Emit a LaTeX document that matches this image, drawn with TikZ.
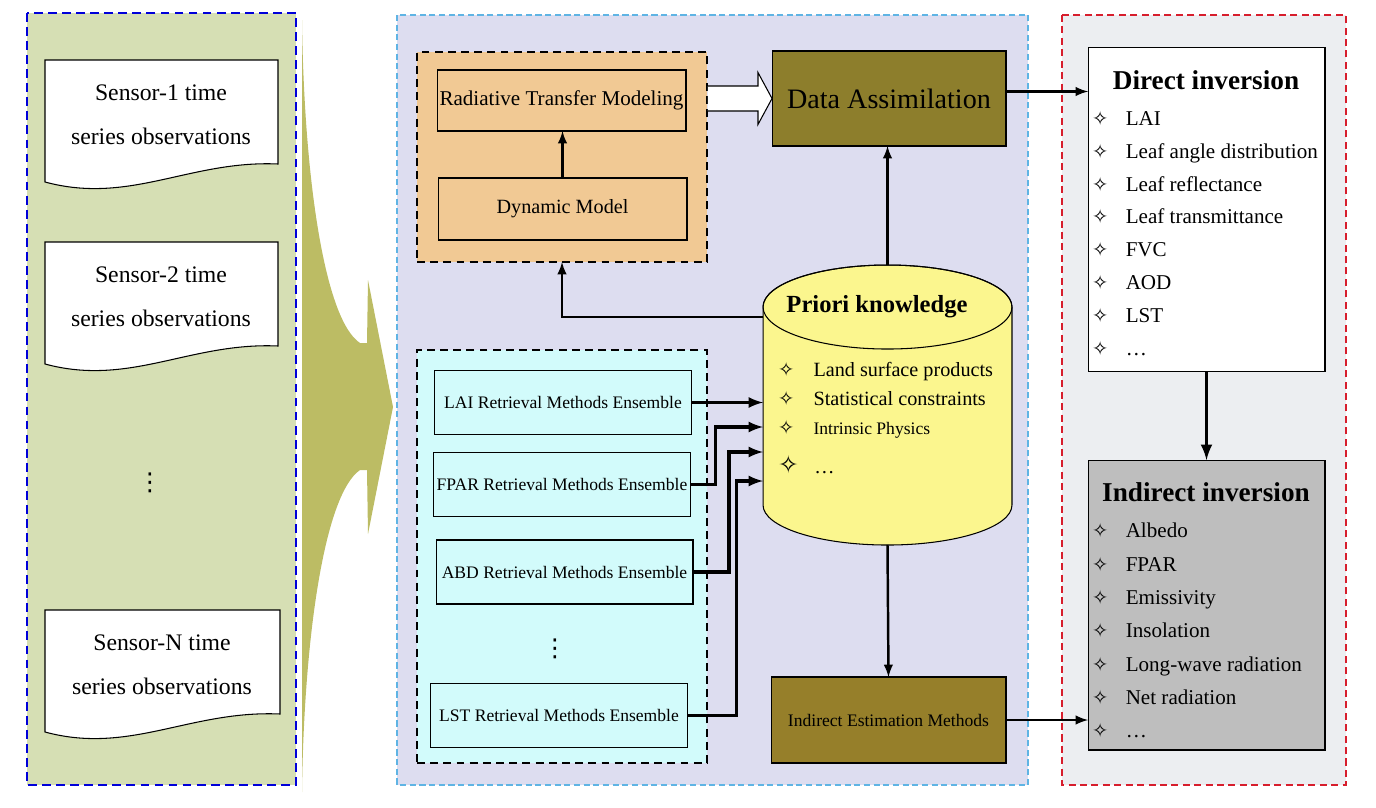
\documentclass[tikz,border=0pt]{standalone}
\usepackage{fontspec}
\setmainfont{Liberation Serif}
\newfontfamily\symfont{DejaVu Sans}
\usepackage{tikz}
\usetikzlibrary{calc,arrows,positioning}

\definecolor{sensorgreen}{RGB}{214,223,180}
\definecolor{funnelolive}{RGB}{188,188,100}
\definecolor{midlavender}{RGB}{221,221,240}
\definecolor{midblue}{RGB}{95,180,228}
\definecolor{modeltan}{RGB}{241,201,148}
\definecolor{retrcyan}{RGB}{210,251,251}
\definecolor{assimolive}{RGB}{141,126,44}
\definecolor{iemolive}{RGB}{150,127,42}
\definecolor{priorcream}{RGB}{251,246,142}
\definecolor{outgray}{RGB}{236,238,241}
\definecolor{outred}{RGB}{215,30,45}
\definecolor{indgray}{RGB}{190,190,190}

\newcommand{\itemstar}{{\symfont\fontsize{11}{11}\selectfont ✧}}

\begin{document}
\begin{tikzpicture}[x=0.02cm, y=-0.02cm,
    every node/.style={inner sep=0pt, outer sep=0pt},
    box/.style={draw, line width=0.6pt},
    dashgroup/.style={draw, line width=1.6pt, dash pattern=on 4.5pt off 3pt},
    sensor/.style={align=center, font=\fontsize{13.5}{25}\selectfont},
    retr/.style={box, minimum width=5.14cm, minimum height=1.28cm, font=\fontsize{10}{12}\selectfont},
    item/.style={anchor=north west, align=left, font=\fontsize{12}{18.7}\selectfont},
    vdots/.style={font=\symfont\fontsize{14}{14}\selectfont},
    arr/.style={->, >=latex, line width=1.4pt},
    thickarr/.style={->, >=latex, line width=1.8pt}]
    \useasboundingbox (0,0) rectangle (1376,808);
    % panels
    \draw[fill=sensorgreen, draw=blue!85!black, line width=1.4pt, dash pattern=on 5pt off 3pt] (27,13) rectangle (296,785);
    \draw[fill=midlavender, draw=midblue, line width=1.6pt, dash pattern=on 3.5pt off 2pt] (397,15) rectangle (1028,785);
    \draw[fill=outgray, draw=outred, line width=1.6pt, dash pattern=on 4pt off 2.5pt] (1062,15) rectangle (1346,785);
    % sensor observations
    \draw[box, fill=white] (45,60) -- (278,60) -- (278,164) .. controls (190,160) and (130,205) .. (45,182) -- cycle;
    \draw[box, fill=white] (45,242) -- (278,242) -- (278,346) .. controls (190,342) and (130,387) .. (45,364) -- cycle;
    \draw[box, fill=white] (45,610) -- (280,610) -- (280,714) .. controls (190,710) and (130,755) .. (45,732) -- cycle;
    \node[sensor] (s1) at (161,115) {Sensor-1 time\\series observations};
    \node[sensor] (s2) at (161,297) {Sensor-2 time\\series observations};
    \node[sensor] (sn) at (162,665) {Sensor-N time\\series observations};
    \node[vdots] (sdots) at (150,483) {⋮};
    % funnel
    \fill[funnelolive] (302,20) .. controls (304,180) and (325,320) .. (360,343) -- (367,343) -- (368,280) -- (393,407) -- (368,534) -- (367,470) -- (360,470) .. controls (325,494) and (304,634) .. (302,792) -- cycle;
    % models
    \node[dashgroup, fill=modeltan, minimum width=5.8cm, minimum height=4.2cm] (modelgroup) at (562,157) {};
    \node[box, minimum width=4.98cm, minimum height=1.22cm, font=\fontsize{12}{14}\selectfont] (rtm) at (561.5,100.5) {Radiative Transfer Modeling};
    \node[box, minimum width=4.98cm, minimum height=1.24cm, font=\fontsize{11.5}{14}\selectfont] (dm) at (562.5,209) {Dynamic Model};
    \node[box, fill=assimolive, minimum width=4.68cm, minimum height=1.9cm, font=\fontsize{16}{19}\selectfont] (da) at (889,98.5) {Data Assimilation};
    % retrieval ensembles
    \node[dashgroup, fill=retrcyan, minimum width=5.8cm, minimum height=8.26cm] (retrgroup) at (562,556.5) {};
    \node[retr] (lai) at (563,402.5) {LAI Retrieval Methods Ensemble};
    \node[retr] (fpar) at (562,484.5) {FPAR Retrieval Methods Ensemble};
    \node[retr] (abd) at (564.5,572) {ABD Retrieval Methods Ensemble};
    \node[vdots] (rdots) at (555,649) {⋮};
    \node[retr] (lst) at (559,715.5) {LST Retrieval Methods Ensemble};
    % priori knowledge
    \node[minimum width=4.98cm, minimum height=5.6cm] (prior) at (887.5,405) {};
    \draw[fill=priorcream, line width=0.6pt] ($(prior.north west)+(0,42)$) -- ++(0,198) arc[start angle=180, end angle=360, x radius=2.49cm, y radius=0.8cm] -- ++(0,-198) arc[start angle=0, end angle=180, x radius=2.49cm, y radius=0.84cm] -- cycle;
    \draw[line width=0.6pt] ($(prior.north)+(0,42)$) ellipse [x radius=2.49cm, y radius=0.84cm];
    \node[font=\bfseries\fontsize{14}{17}\selectfont] (priortitle) at (877,307) {Priori knowledge};
    \node[item, font=\fontsize{11.5}{16.4}\selectfont] (priorlist) at (778,362) {\itemstar\hspace{11pt}Land surface products\\
        \itemstar\hspace{11pt}Statistical constraints\\
        \itemstar\hspace{11pt}{\fontsize{10}{12}\selectfont Intrinsic Physics}\\[6pt]
        {\symfont\fontsize{14}{14}\selectfont ✧}\hspace{9pt}\dots};
    \node[box, fill=iemolive, minimum width=4.7cm, minimum height=1.72cm, font=\fontsize{10}{12}\selectfont] (iem) at (888.5,720) {Indirect Estimation Methods};
    % inversion results
    \node[box, fill=white, minimum width=4.74cm, minimum height=6.5cm] (dinv) at (1206.5,209.5) {};
    \node[font=\bfseries\fontsize{15.5}{18}\selectfont] (dtitle) at (1206,80) {Direct inversion};
    \node[item] (dlist) at (1092,111) {\itemstar\hspace{10pt}LAI\\ \itemstar\hspace{10pt}Leaf angle distribution\\
        \itemstar\hspace{10pt}Leaf reflectance\\ \itemstar\hspace{10pt}Leaf transmittance\\
        \itemstar\hspace{10pt}FVC\\ \itemstar\hspace{10pt}AOD\\ \itemstar\hspace{10pt}LST\\ \itemstar\hspace{10pt}\dots};
    \node[box, fill=indgray, minimum width=4.74cm, minimum height=5.8cm] (iinv) at (1206.5,605) {};
    \node[font=\bfseries\fontsize{15.5}{18}\selectfont] (ititle) at (1206,492) {Indirect inversion};
    \node[item, font=\fontsize{12}{19}\selectfont] (ilist) at (1092,523) {\itemstar\hspace{10pt}Albedo\\ \itemstar\hspace{10pt}FPAR\\
        \itemstar\hspace{10pt}Emissivity\\ \itemstar\hspace{10pt}Insolation\\
        \itemstar\hspace{10pt}Long-wave radiation\\ \itemstar\hspace{10pt}Net radiation\\ \itemstar\hspace{10pt}\dots};
    % connectors
    \coordinate (hollow) at (modelgroup.east |- da.west);
    \draw[fill=white, line width=0.6pt] ($(hollow)+(1,-12.5)$) -- ++(50,0) -- ++(0,-13.5) -- (da.west) -- ($(hollow)+(51,26)$) -- ++(0,-13.5) -- ($(hollow)+(1,12.5)$);
    \draw[arr] (dm.north) -- (dm.north |- rtm.south);
    \draw[arr] (prior.north) -- (prior.north |- da.south);
    \draw[arr] ($(prior.west)+(0,-88)$) -| (modelgroup.south);
    \draw[thickarr] (lai.east) -- (lai.east -| prior.west);
    \draw[thickarr] (fpar.east) -- ++(25,0) |- ($(prior.west)+(0,22)$);
    \draw[thickarr] (abd.east) -- ++(36,0) |- ($(prior.west)+(0,47)$);
    \draw[thickarr] (lst.east) -- ++(49,0) |- ($(prior.west)+(0,76)$);
    \draw[arr] (prior.south) -- (iem.north);
    \draw[arr] ($(da.east)+(0,-7)$) coordinate (daout) -- (daout -| dinv.west);
    \draw[arr] (iem.east) -- (iem.east -| iinv.west);
    \draw[arr, line width=2pt] (dinv.south) -- (iinv.north);
\end{tikzpicture}
\end{document}
